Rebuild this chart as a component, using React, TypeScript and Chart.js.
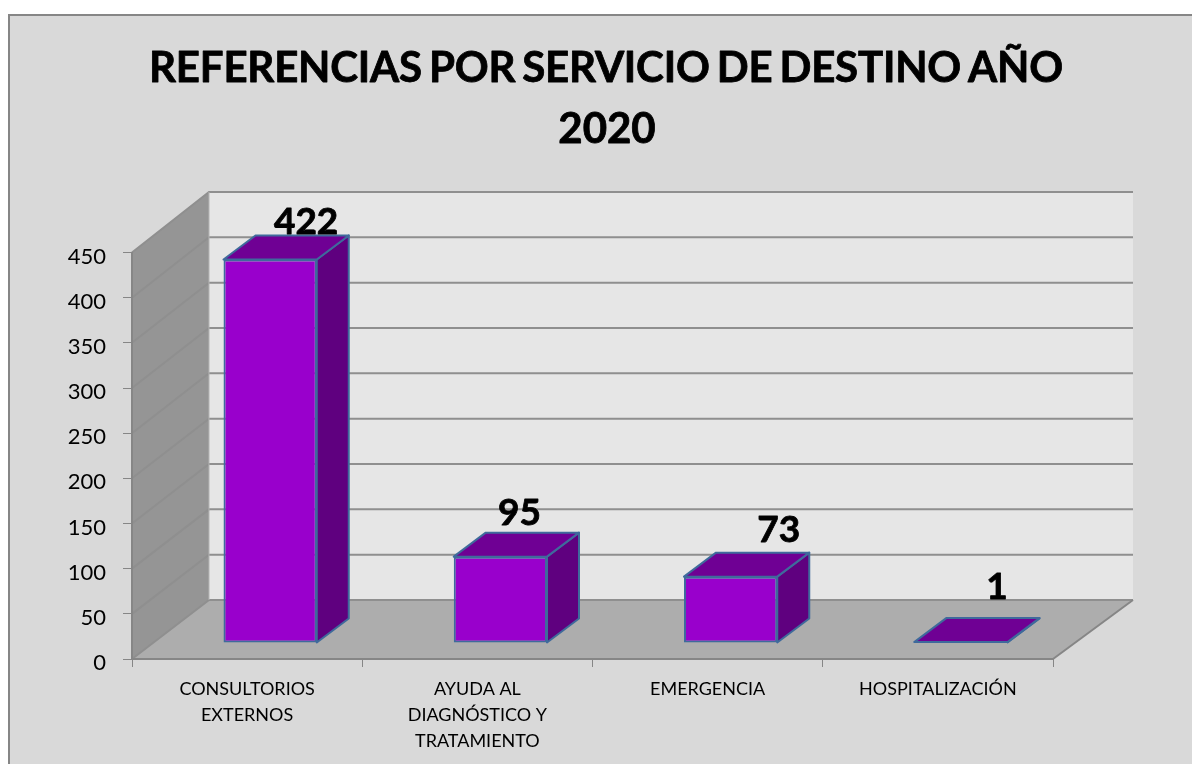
import React, { useEffect, useRef } from "react";
import { Chart, registerables } from "chart.js";

Chart.register(...registerables);

const titleLines = ["REFERENCIAS POR SERVICIO DE DESTINO AÑO", "2020"];
const categories = [
  ["CONSULTORIOS", "EXTERNOS"],
  ["AYUDA AL", "DIAGNÓSTICO Y", "TRATAMIENTO"],
  ["EMERGENCIA"],
  ["HOSPITALIZACIÓN"],
];
const referencias = [422, 95, 73, 1];
const yMax = 450;
const yStep = 50;

const FONT = "Lato";
const AXIS = "#868686";
const EDGE = "#3f6a9c";
// projection of the 3D box
const WALL_DX = 77;
const WALL_DX_RIGHT = 80;
const WALL_DY = -59;
const WALL_SCALE = 408 / 406.5;
const BAR_DX = 23;
const BAR_DY = -16;
const BAR_SCALE = 1.0062;
const DEPTH_DX = 32;
const DEPTH_DY = -24;
// data labels were moved by hand in the original
const labelNudge = [
  [36, -40],
  [19, -44],
  [48, -47],
  [36, -55],
];

const heavyText = (ctx: any, text: string, x: number, y: number, w: number) => {
  ctx.lineWidth = w;
  ctx.strokeStyle = "#000000";
  ctx.lineJoin = "round";
  ctx.strokeText(text, x, y);
  ctx.fillText(text, x, y);
};

const scene = {
  id: "scene",
  beforeDraw(chart: any) {
    const { ctx, width, height, chartArea: a } = chart;
    const y = chart.scales.y;
    const y0 = y.getPixelForValue(0);
    const backY = (v: number) => y0 + WALL_DY + (y.getPixelForValue(v) - y0) * WALL_SCALE;
    const bl = a.left + WALL_DX;
    const br = a.right + WALL_DX_RIGHT;
    ctx.save();
    ctx.fillStyle = "#ffffff";
    ctx.fillRect(0, 0, width, height);
    ctx.fillStyle = "#d9d9d9";
    ctx.fillRect(9, 15, width, height);
    ctx.strokeStyle = AXIS;
    ctx.lineWidth = 2;
    ctx.beginPath();
    ctx.moveTo(9, height + 2);
    ctx.lineTo(9, 15);
    ctx.lineTo(width + 2, 15);
    ctx.stroke();

    const poly = (pts: number[][], fill: string) => {
      ctx.beginPath();
      pts.forEach((p, i) => (i ? ctx.lineTo(p[0], p[1]) : ctx.moveTo(p[0], p[1])));
      ctx.closePath();
      ctx.fillStyle = fill;
      ctx.fill();
    };
    poly([[bl, backY(yMax)], [br, backY(yMax)], [br, backY(0)], [bl, backY(0)]], "#e6e6e6");
    poly([[a.left, y.getPixelForValue(yMax)], [bl, backY(yMax)], [bl, backY(0)], [a.left, y0]], "#959595");
    poly([[a.left, y0], [bl, backY(0)], [br, backY(0)], [a.right, y0]], "#adadad");

    ctx.lineWidth = 2;
    ctx.strokeStyle = "#8f8f8f";
    for (let v = 0; v <= yMax; v += yStep) {
      ctx.beginPath();
      ctx.moveTo(a.left, y.getPixelForValue(v));
      ctx.lineTo(bl, backY(v));
      ctx.lineTo(br, backY(v));
      ctx.stroke();
    }
    ctx.beginPath();
    ctx.moveTo(bl, backY(yMax));
    ctx.lineTo(bl, backY(0));
    ctx.strokeStyle = "#b4b4b4";
    ctx.lineWidth = 1;
    ctx.stroke();
    ctx.beginPath();
    ctx.moveTo(a.right, y0);
    ctx.lineTo(br, backY(0));
    ctx.strokeStyle = AXIS;
    ctx.lineWidth = 2;
    ctx.stroke();

    ctx.fillStyle = "#000000";
    ctx.textAlign = "center";
    ctx.textBaseline = "alphabetic";
    ctx.font = `bold 42px ${FONT}`;
    ctx.letterSpacing = "-0.2px";
    ctx.wordSpacing = "-3px";
    heavyText(ctx, titleLines[0], 606, 82, 0.8);
    ctx.letterSpacing = "0px";
    ctx.wordSpacing = "0px";
    heavyText(ctx, titleLines[1], 607, 143, 0.8);
    ctx.restore();
  },
  beforeDatasetDraw(chart: any, args: any) {
    const { ctx } = chart;
    const y0 = chart.scales.y.getPixelForValue(0);
    ctx.save();
    ctx.lineWidth = 2;
    ctx.strokeStyle = EDGE;
    ctx.lineJoin = "round";
    args.meta.data.forEach((bar: any) => {
      const { x, y, base, width } = bar.getProps(["x", "y", "base", "width"], true);
      const l = x - width / 2 + BAR_DX;
      const r = x + width / 2 + BAR_DX;
      const t = y0 + BAR_DY + (y - y0) * BAR_SCALE;
      const b = y0 + BAR_DY + (base - y0) * BAR_SCALE;
      ctx.beginPath();
      ctx.moveTo(r, t);
      ctx.lineTo(r + DEPTH_DX, t + DEPTH_DY);
      ctx.lineTo(r + DEPTH_DX, b + DEPTH_DY);
      ctx.lineTo(r, b);
      ctx.closePath();
      ctx.fillStyle = "#5f007f";
      ctx.fill();
      ctx.stroke();
      ctx.beginPath();
      ctx.moveTo(l, t);
      ctx.lineTo(l + DEPTH_DX, t + DEPTH_DY);
      ctx.lineTo(r + DEPTH_DX, t + DEPTH_DY);
      ctx.lineTo(r, t);
      ctx.closePath();
      ctx.fillStyle = "#6f0094";
      ctx.fill();
      ctx.stroke();
    });
    ctx.restore();
    ctx.save();
    ctx.translate(BAR_DX, y0 + BAR_DY);
    ctx.scale(1, BAR_SCALE);
    ctx.translate(0, -y0);
  },
  afterDatasetDraw(chart: any) {
    chart.ctx.restore();
  },
  afterDatasetsDraw(chart: any) {
    const { ctx } = chart;
    const meta = chart.getDatasetMeta(0);
    ctx.save();
    ctx.fillStyle = "#000000";
    ctx.font = `bold 37px ${FONT}`;
    ctx.textAlign = "center";
    ctx.textBaseline = "middle";
    meta.data.forEach((bar: any, i: number) => {
      heavyText(
        ctx,
        String(referencias[i]),
        bar.x + BAR_DX + labelNudge[i][0],
        bar.y + BAR_DY + labelNudge[i][1],
        0.8
      );
    });
    ctx.restore();
  },
};

export default function App() {
  const ref = useRef<HTMLCanvasElement>(null);
  useEffect(() => {
    const chart = new Chart(ref.current as HTMLCanvasElement, {
      type: "bar",
      data: {
        labels: categories,
        datasets: [
          {
            label: "Referencias",
            data: referencias,
            backgroundColor: "#9900cc",
            borderColor: EDGE,
            borderWidth: 2,
            borderSkipped: false,
            categoryPercentage: 1,
            barPercentage: 0.405,
            clip: false,
          } as any,
        ],
      },
      options: {
        responsive: false,
        animation: false,
        events: [],
        layout: { padding: { left: 0, right: 139, top: 252.5, bottom: 0 } },
        plugins: { legend: { display: false }, title: { display: false }, tooltip: { enabled: false } },
        scales: {
          x: {
            afterFit: (s: any) => {
              s.height = 105;
            },
            offset: true,
            border: { display: true, color: AXIS, width: 2 },
            grid: { display: true, drawOnChartArea: false, drawTicks: true, tickLength: 8, color: AXIS, offset: true },
            ticks: {
              autoSkip: false,
              maxRotation: 0,
              minRotation: 0,
              padding: 9,
              color: "#000000",
              font: { family: FONT, size: 18, lineHeight: 26 / 18 },
            },
          },
          y: {
            min: 0,
            max: yMax,
            afterFit: (s: any) => {
              s.width = 132;
            },
            border: { display: true, color: AXIS, width: 2 },
            grid: { display: true, drawOnChartArea: false, drawTicks: true, tickLength: 9, color: AXIS },
            ticks: {
              stepSize: yStep,
              padding: 17,
              color: "#000000",
              callback: (v: any) => ["", String(v)],
              font: { family: FONT, size: 22, lineHeight: 8 / 22 },
            },
          },
        },
      },
      plugins: [scene],
    } as any);
    return () => chart.destroy();
  }, []);
  return (
    <div style={{ position: "fixed", left: 0, top: 0, width: 1192, height: 764, overflow: "hidden" }}>
      <canvas ref={ref} width={1192} height={764} style={{ display: "block" }} />
    </div>
  );
}
